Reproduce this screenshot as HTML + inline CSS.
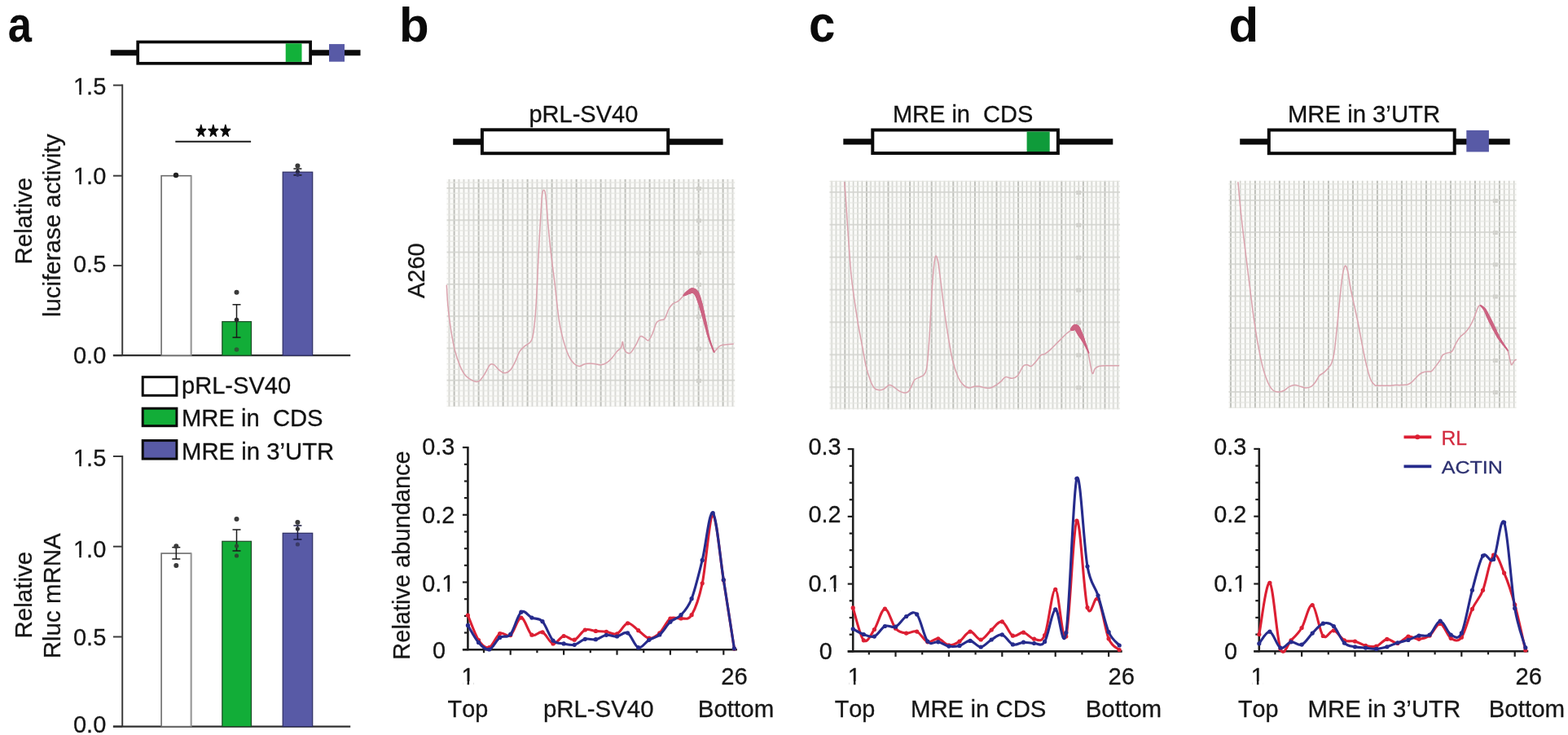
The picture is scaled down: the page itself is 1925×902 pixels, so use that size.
<!DOCTYPE html><html><head><meta charset="utf-8"><title>Figure</title>
<style>html,body{margin:0;padding:0;background:#fff;width:1925px;height:902px;overflow:hidden}svg{display:block}text{font-family:"Liberation Sans", Arial, sans-serif;font-kerning:none;font-feature-settings:"kern" 0}</style></head><body>
<svg width="1925" height="902" viewBox="0 0 1925 902">
<defs>
<filter id="soft" x="-2%" y="-2%" width="104%" height="104%"><feGaussianBlur stdDeviation="0.6"/></filter>
<filter id="soft2" x="-5%" y="-5%" width="110%" height="110%"><feGaussianBlur stdDeviation="0.35"/></filter>
</defs>
<rect x="0" y="0" width="1925" height="902" fill="#ffffff"/>
<text x="0" y="0" font-size="60" font-weight="bold" fill="#0a0a0a" transform="translate(11.1 51.3) scale(0.875 1.025) translate(-1.6 0)">a</text>
<text x="490" y="50.6" font-size="60" text-anchor="start" font-weight="bold" fill="#0a0a0a">b</text>
<text x="0" y="0" font-size="60" font-weight="bold" fill="#0a0a0a" transform="translate(994.9 51.3) scale(0.97 1.05) translate(-2.0 0)">c</text>
<text x="1508.5" y="50.6" font-size="60" text-anchor="start" font-weight="bold" fill="#0a0a0a">d</text>
<line x1="135.8" y1="64.8" x2="168.4" y2="64.8" stroke="#0a0a0a" stroke-width="7" stroke-linecap="butt"/>
<line x1="382" y1="64.8" x2="442.5" y2="64.8" stroke="#0a0a0a" stroke-width="7" stroke-linecap="butt"/>
<rect x="169.2" y="51.5" width="211.9" height="26.3" fill="#ffffff" stroke="#0a0a0a" stroke-width="3.7"/>
<rect x="350.7" y="53.3" width="19.8" height="22.6" fill="#12b13a" stroke="none" stroke-width="0"/>
<rect x="404" y="54.1" width="19" height="21.6" fill="#585aa6" stroke="none" stroke-width="0"/>
<line x1="556.2" y1="174" x2="590.9" y2="174" stroke="#0a0a0a" stroke-width="7.4" stroke-linecap="butt"/>
<line x1="821.2" y1="174" x2="887.6" y2="174" stroke="#0a0a0a" stroke-width="7.4" stroke-linecap="butt"/>
<rect x="591.9" y="159.3" width="228.3" height="28.9" fill="#ffffff" stroke="#0a0a0a" stroke-width="4"/>
<line x1="1035.3" y1="173.9" x2="1070.3" y2="173.9" stroke="#0a0a0a" stroke-width="7.4" stroke-linecap="butt"/>
<line x1="1299.9" y1="173.9" x2="1366.3" y2="173.9" stroke="#0a0a0a" stroke-width="7.4" stroke-linecap="butt"/>
<rect x="1071.3" y="159.5" width="227.6" height="28.5" fill="#ffffff" stroke="#0a0a0a" stroke-width="4"/>
<rect x="1260.6" y="161.5" width="28.1" height="24.5" fill="#0f9b3a" stroke="none" stroke-width="0"/>
<line x1="1522.2" y1="173.9" x2="1556.8" y2="173.9" stroke="#0a0a0a" stroke-width="7.4" stroke-linecap="butt"/>
<line x1="1786.7" y1="173.9" x2="1853.7" y2="173.9" stroke="#0a0a0a" stroke-width="7.4" stroke-linecap="butt"/>
<rect x="1557.8" y="159.5" width="227.9" height="28.7" fill="#ffffff" stroke="#0a0a0a" stroke-width="4"/>
<rect x="1800.3" y="159.9" width="27.6" height="26.5" fill="#585aa6" stroke="none" stroke-width="0"/>
<text x="716.4" y="149.5" font-size="29" text-anchor="middle" font-weight="normal" fill="#111" stroke="#111" stroke-width="0.28">pRL-SV40</text>
<text x="1182.1" y="149.6" font-size="29" text-anchor="middle" font-weight="normal" fill="#111" stroke="#111" stroke-width="0.28">MRE in&#160;&#160;CDS</text>
<text x="1674.5" y="149.6" font-size="29.3" text-anchor="middle" font-weight="normal" fill="#111" stroke="#111" stroke-width="0.28">MRE in 3&#8217;UTR</text>
<line x1="150.2" y1="103.6" x2="150.2" y2="436.2" stroke="#3c3c3c" stroke-width="2" stroke-linecap="butt"/>
<line x1="138.9" y1="104.6" x2="150.2" y2="104.6" stroke="#3c3c3c" stroke-width="2" stroke-linecap="butt"/>
<line x1="138.9" y1="215.7" x2="150.2" y2="215.7" stroke="#3c3c3c" stroke-width="2" stroke-linecap="butt"/>
<line x1="138.9" y1="325.9" x2="150.2" y2="325.9" stroke="#3c3c3c" stroke-width="2" stroke-linecap="butt"/>
<line x1="138.9" y1="436.2" x2="150.2" y2="436.2" stroke="#3c3c3c" stroke-width="2" stroke-linecap="butt"/>
<line x1="138.9" y1="436.2" x2="430.2" y2="436.2" stroke="#303030" stroke-width="2.2" stroke-linecap="butt"/>
<clipPath id="nf1"><path clip-rule="evenodd" d="M70,55.8 h80.3 v100 h-80.3 Z M91.73,112.38 h5.55 v4.92 h-5.55 Z M99.75,112.38 h5.61 v4.92 h-5.61 Z"/></clipPath>
<text x="130.3" y="115.8" font-size="29" text-anchor="end" font-weight="normal" fill="#161616" stroke="#161616" stroke-width="0.28" clip-path="url(#nf1)">1.5</text>
<clipPath id="nf2"><path clip-rule="evenodd" d="M70,165.9 h80.3 v100 h-80.3 Z M91.73,222.48 h5.55 v4.92 h-5.55 Z M99.75,222.48 h5.61 v4.92 h-5.61 Z"/></clipPath>
<text x="130.3" y="225.9" font-size="29" text-anchor="end" font-weight="normal" fill="#161616" stroke="#161616" stroke-width="0.28" clip-path="url(#nf2)">1.0</text>
<text x="130.3" y="333.9" font-size="29" text-anchor="end" font-weight="normal" fill="#161616" stroke="#161616" stroke-width="0.28">0.5</text>
<text x="130.3" y="445.7" font-size="29" text-anchor="end" font-weight="normal" fill="#161616" stroke="#161616" stroke-width="0.28">0.0</text>
<rect x="198.1" y="215.7" width="36.5" height="220.5" fill="#ffffff" stroke="#6c6c6c" stroke-width="1.6"/>
<line x1="234.6" y1="215.7" x2="234.6" y2="436.2" stroke="#9a9a9a" stroke-width="1.6" stroke-linecap="butt"/>
<rect x="272.8" y="394.7" width="35.7" height="41.5" fill="#12ad38" stroke="#1d4a26" stroke-width="1.2"/>
<rect x="347.2" y="211.2" width="36.5" height="225" fill="#585aa6" stroke="#2c2c62" stroke-width="1.2"/>
<line x1="150.2" y1="559" x2="150.2" y2="891.6" stroke="#3c3c3c" stroke-width="2" stroke-linecap="butt"/>
<line x1="138.9" y1="560" x2="150.2" y2="560" stroke="#3c3c3c" stroke-width="2" stroke-linecap="butt"/>
<line x1="138.9" y1="670.7" x2="150.2" y2="670.7" stroke="#3c3c3c" stroke-width="2" stroke-linecap="butt"/>
<line x1="138.9" y1="781.5" x2="150.2" y2="781.5" stroke="#3c3c3c" stroke-width="2" stroke-linecap="butt"/>
<line x1="138.9" y1="891.6" x2="150.2" y2="891.6" stroke="#3c3c3c" stroke-width="2" stroke-linecap="butt"/>
<line x1="138.9" y1="891.6" x2="430.2" y2="891.6" stroke="#303030" stroke-width="2.2" stroke-linecap="butt"/>
<clipPath id="nf3"><path clip-rule="evenodd" d="M70,511.8 h80.3 v100 h-80.3 Z M91.73,568.38 h5.55 v4.92 h-5.55 Z M99.75,568.38 h5.61 v4.92 h-5.61 Z"/></clipPath>
<text x="130.3" y="571.8" font-size="29" text-anchor="end" font-weight="normal" fill="#161616" stroke="#161616" stroke-width="0.28" clip-path="url(#nf3)">1.5</text>
<clipPath id="nf4"><path clip-rule="evenodd" d="M70,624.4 h80.3 v100 h-80.3 Z M91.73,680.98 h5.55 v4.92 h-5.55 Z M99.75,680.98 h5.61 v4.92 h-5.61 Z"/></clipPath>
<text x="130.3" y="684.4" font-size="29" text-anchor="end" font-weight="normal" fill="#161616" stroke="#161616" stroke-width="0.28" clip-path="url(#nf4)">1.0</text>
<text x="130.3" y="791.6" font-size="29" text-anchor="end" font-weight="normal" fill="#161616" stroke="#161616" stroke-width="0.28">0.5</text>
<text x="130.3" y="898.6" font-size="29" text-anchor="end" font-weight="normal" fill="#161616" stroke="#161616" stroke-width="0.28">0.0</text>
<rect x="198.1" y="679.1" width="36.5" height="212.5" fill="#ffffff" stroke="#6c6c6c" stroke-width="1.6"/>
<line x1="234.6" y1="679.1" x2="234.6" y2="891.6" stroke="#9a9a9a" stroke-width="1.6" stroke-linecap="butt"/>
<rect x="272.8" y="664.3" width="35.7" height="227.3" fill="#12ad38" stroke="#1d4a26" stroke-width="1.2"/>
<rect x="347.2" y="654.3" width="36.5" height="237.3" fill="#585aa6" stroke="#2c2c62" stroke-width="1.2"/>
<circle cx="216" cy="215" r="3.2" fill="#222"/>
<line x1="290.5" y1="373.8" x2="290.5" y2="414.1" stroke="#1a1a1a" stroke-width="1.5" stroke-linecap="butt"/>
<line x1="285.5" y1="373.8" x2="295.5" y2="373.8" stroke="#1a1a1a" stroke-width="1.5" stroke-linecap="butt"/>
<line x1="285.5" y1="414.1" x2="295.5" y2="414.1" stroke="#1a1a1a" stroke-width="1.5" stroke-linecap="butt"/>
<circle cx="290.5" cy="358.8" r="3" fill="#3a3a3a"/>
<circle cx="290.5" cy="392.5" r="2.8" fill="#2a2a2a"/>
<circle cx="290.5" cy="429" r="2.8" fill="#2d5a35"/>
<line x1="365.4" y1="207.1" x2="365.4" y2="214.9" stroke="#1a1a1a" stroke-width="1.5" stroke-linecap="butt"/>
<line x1="360.4" y1="207.1" x2="370.4" y2="207.1" stroke="#1a1a1a" stroke-width="1.5" stroke-linecap="butt"/>
<line x1="360.4" y1="214.9" x2="370.4" y2="214.9" stroke="#1a1a1a" stroke-width="1.5" stroke-linecap="butt"/>
<circle cx="365.4" cy="203.5" r="3" fill="#3a3a3a"/>
<circle cx="365.4" cy="210.5" r="2.6" fill="#2a2a40"/>
<circle cx="365.4" cy="214.5" r="2.4" fill="#30306a"/>
<line x1="215.3" y1="173.8" x2="308.1" y2="173.8" stroke="#1a1a1a" stroke-width="2" stroke-linecap="butt"/>
<text x="0" y="0" font-size="19" text-anchor="middle" fill="#0a0a0a" font-family="DejaVu Sans" letter-spacing="2.3" stroke="#0a0a0a" stroke-width="1.7" stroke-linejoin="round" transform="translate(262.4 166.6) scale(0.8 1)">&#9733;&#9733;&#9733;</text>
<line x1="216.3" y1="671.7" x2="216.3" y2="686" stroke="#1a1a1a" stroke-width="1.5" stroke-linecap="butt"/>
<line x1="211.3" y1="671.7" x2="221.3" y2="671.7" stroke="#1a1a1a" stroke-width="1.5" stroke-linecap="butt"/>
<line x1="211.3" y1="686" x2="221.3" y2="686" stroke="#1a1a1a" stroke-width="1.5" stroke-linecap="butt"/>
<circle cx="216.3" cy="670.2" r="3" fill="#3a3a3a"/>
<circle cx="216.3" cy="694" r="3" fill="#3a3a3a"/>
<line x1="290.5" y1="650" x2="290.5" y2="676" stroke="#1a1a1a" stroke-width="1.5" stroke-linecap="butt"/>
<line x1="285.5" y1="650" x2="295.5" y2="650" stroke="#1a1a1a" stroke-width="1.5" stroke-linecap="butt"/>
<line x1="285.5" y1="676" x2="295.5" y2="676" stroke="#1a1a1a" stroke-width="1.5" stroke-linecap="butt"/>
<circle cx="290.5" cy="637" r="3" fill="#3a3a3a"/>
<circle cx="290.5" cy="670" r="2.6" fill="#2a4a30"/>
<circle cx="290.5" cy="682" r="2.6" fill="#2a4a30"/>
<line x1="365.4" y1="645" x2="365.4" y2="662" stroke="#1a1a40" stroke-width="1.5" stroke-linecap="butt"/>
<line x1="360.4" y1="645" x2="370.4" y2="645" stroke="#1a1a40" stroke-width="1.5" stroke-linecap="butt"/>
<line x1="360.4" y1="662" x2="370.4" y2="662" stroke="#1a1a40" stroke-width="1.5" stroke-linecap="butt"/>
<circle cx="365.4" cy="641" r="3" fill="#3a3a3a"/>
<circle cx="365.4" cy="649" r="2.6" fill="#333"/>
<circle cx="365.4" cy="668" r="2.6" fill="#3a3a66"/>
<text x="38.6" y="271.2" font-size="29.5" text-anchor="middle" font-weight="normal" fill="#161616" stroke="#161616" stroke-width="0.28" transform="rotate(-90 38.6 271.2)">Relative</text>
<text x="74" y="276.8" font-size="29.5" text-anchor="middle" font-weight="normal" fill="#161616" stroke="#161616" stroke-width="0.28" transform="rotate(-90 74 276.8)">luciferase activity</text>
<text x="38.6" y="730.2" font-size="29.5" text-anchor="middle" font-weight="normal" fill="#161616" stroke="#161616" stroke-width="0.28" transform="rotate(-90 38.6 730.2)">Relative</text>
<text x="74" y="731.3" font-size="29.5" text-anchor="middle" font-weight="normal" fill="#161616" stroke="#161616" stroke-width="0.28" transform="rotate(-90 74 731.3)">Rluc mRNA</text>
<rect x="175.2" y="462.7" width="41.7" height="22.6" fill="#ffffff" stroke="#0a0a0a" stroke-width="3"/>
<rect x="175.2" y="501.2" width="41.7" height="21.5" fill="#12ad38" stroke="#0a0a0a" stroke-width="3"/>
<rect x="175.2" y="540.6" width="41.7" height="22.5" fill="#585aa6" stroke="#0a0a0a" stroke-width="3"/>
<text x="223" y="482.9" font-size="29.1" text-anchor="start" font-weight="normal" fill="#111" stroke="#111" stroke-width="0.28">pRL-SV40</text>
<text x="223" y="522.8" font-size="29.2" text-anchor="start" font-weight="normal" fill="#111" stroke="#111" stroke-width="0.28">MRE in&#160;&#160;CDS</text>
<text x="223" y="563.9" font-size="29.3" text-anchor="start" font-weight="normal" fill="#111" stroke="#111" stroke-width="0.28">MRE in 3&#8217;UTR</text>
<defs><pattern id="gv1" x="8.3" y="0" width="30" height="10" patternUnits="userSpaceOnUse"><rect x="0" y="0" width="2.0" height="10" fill="#bfc0bb"/><rect x="6" y="0" width="1.5" height="10" fill="#cfd0cb"/><rect x="12" y="0" width="1.5" height="10" fill="#cfd0cb"/><rect x="18" y="0" width="1.5" height="10" fill="#cfd0cb"/><rect x="24" y="0" width="1.5" height="10" fill="#cfd0cb"/></pattern>
<pattern id="gh1" x="0" y="10" width="10" height="39.3" patternUnits="userSpaceOnUse"><rect x="0" y="0" width="10" height="1.7" fill="#d4d5d0"/><rect x="0" y="6.5" width="10" height="1.2" fill="#e5e6e1"/><rect x="0" y="13.1" width="10" height="1.2" fill="#e5e6e1"/><rect x="0" y="19.6" width="10" height="1.2" fill="#e5e6e1"/><rect x="0" y="26.2" width="10" height="1.2" fill="#e5e6e1"/><rect x="0" y="32.8" width="10" height="1.2" fill="#e5e6e1"/></pattern></defs>
<rect x="548.3" y="220" width="354.1" height="279.2" fill="#fbfbf9" stroke="none" stroke-width="0"/>
<g filter="url(#soft)">
<svg x="548.3" y="220" width="354.1" height="279.2" overflow="hidden">
<rect x="0" y="0" width="354.1" height="279.2" fill="url(#gv1)" stroke="none" stroke-width="0"/>
<rect x="0" y="0" width="354.1" height="279.2" fill="url(#gh1)" stroke="none" stroke-width="0"/>
</svg>
<rect x="854.9" y="229" width="6" height="5" fill="#d2d2cd" stroke="none" stroke-width="0"/>
<rect x="854.9" y="268.3" width="6" height="5" fill="#d2d2cd" stroke="none" stroke-width="0"/>
<rect x="854.9" y="307.6" width="6" height="5" fill="#d2d2cd" stroke="none" stroke-width="0"/>
<rect x="854.9" y="346.9" width="6" height="5" fill="#d2d2cd" stroke="none" stroke-width="0"/>
<rect x="854.9" y="386.2" width="6" height="5" fill="#d2d2cd" stroke="none" stroke-width="0"/>
<rect x="854.9" y="425.5" width="6" height="5" fill="#d2d2cd" stroke="none" stroke-width="0"/>
<rect x="854.9" y="464.8" width="6" height="5" fill="#d2d2cd" stroke="none" stroke-width="0"/>
</g>
<g filter="url(#soft2)">
<path d="M548.3,349.6 C548.6,354.1 549.1,367.4 550,376.2 C550.8,385.1 551.9,394 553.3,402.8 C554.7,411.7 556.3,421.7 558.3,429.4 C560.2,437.2 562.7,444.1 564.9,449.4 C567.1,454.6 568.8,457.9 571.6,461 C574.3,464 578.8,466.5 581.5,467.6 C584.3,468.8 586,469 588.2,467.6 C590.4,466.3 592.6,462.7 594.8,459.3 C597.1,456 599.6,449.6 601.5,447.7 C603.4,445.8 604.5,446.6 606.5,447.7 C608.4,448.8 610.9,452.7 613.1,454.3 C615.3,456 617.6,457.7 619.8,457.7 C622,457.7 624.2,456.8 626.4,454.3 C628.6,451.9 631.1,446.6 633.1,442.7 C635,438.8 636.1,434.1 638.1,431.1 C640,428 642.5,426.4 644.7,424.4 C646.9,422.5 649.7,421.9 651.4,419.4 C653,416.9 653.6,416.7 654.7,409.5 C655.8,402.3 656.9,392.8 658,376.2 C659.1,359.6 660.2,330.8 661.3,309.7 C662.4,288.7 663.8,262.4 664.7,249.9 C665.5,237.4 665.5,236.9 666.3,234.9 C667.1,233 668.5,231.3 669.6,238.3 C670.7,245.2 671.9,264.6 673,276.5 C674.1,288.4 674.9,297.5 676.3,309.7 C677.7,321.9 679.6,335.8 681.3,349.6 C682.9,363.5 684.6,381.8 686.3,392.8 C687.9,403.9 689.3,408.9 691.2,416.1 C693.2,423.3 695.7,431.1 697.9,436.1 C700.1,441.1 702.3,443.8 704.5,446 C706.8,448.3 709,449.3 711.2,449.4 C713.4,449.5 715.6,447.3 717.8,446.7 C720.1,446.1 722.3,446 724.5,446 C726.7,446 728.9,446.4 731.1,446.7 C733.4,447 735.6,447.9 737.8,447.7 C740,447.5 742.2,446.8 744.4,445.4 C746.7,444 748.9,441.8 751.1,439.4 C753.3,437 755.8,433.3 757.7,431.1 C759.7,428.9 761.6,428 762.7,426.1 C763.8,424.2 763.8,419.2 764.4,419.4 C764.9,419.7 765.2,425.5 766.1,427.8 C766.9,430 768,431.9 769.4,432.7 C770.8,433.6 772.4,434.4 774.4,432.7 C776.3,431.1 779.1,426.1 781,422.8 C782.9,419.4 784.3,414.2 786,412.8 C787.7,411.4 789.3,413.6 791,414.5 C792.6,415.3 794.3,418.6 796,417.8 C797.6,416.9 799.3,413.1 801,409.5 C802.6,405.9 804.3,398.9 805.9,396.2 C807.6,393.4 809.3,393.7 810.9,392.8 C812.6,392 814.3,393.4 815.9,391.2 C817.6,389 819.2,382.6 820.9,379.5 C822.6,376.5 824,374.6 825.9,372.9 C827.8,371.2 830.3,371.2 832.5,369.6 C834.8,367.9 837,364.9 839.2,362.9 C841.4,361 843.9,359 845.8,357.9 C847.8,356.8 849.2,355.7 850.8,356.3 C852.5,356.8 854.1,357.9 855.8,361.3 C857.5,364.6 859.1,370.4 860.8,376.2 C862.5,382 864.1,389.5 865.8,396.2 C867.4,402.8 869.1,410.3 870.8,416.1 C872.4,421.9 874.4,428.9 875.8,431.1 C877.1,433.3 877.7,430.5 879.1,429.4 C880.5,428.3 881.9,425.5 884.1,424.4 C886.3,423.3 889.6,423.2 892.4,422.8 C895.2,422.4 899.3,422.2 900.7,422.1" fill="none" stroke="#dba3ae" stroke-width="1.5" stroke-linejoin="round"/>
<line x1="839.2" y1="362.6" x2="839.9" y2="362.1" stroke="#cc6482" stroke-width="1.6" stroke-linecap="round"/>
<line x1="839.9" y1="362.1" x2="841" y2="361.4" stroke="#cc6482" stroke-width="2.8" stroke-linecap="round"/>
<line x1="841" y1="361.4" x2="842.2" y2="360.5" stroke="#cc6482" stroke-width="3.6" stroke-linecap="round"/>
<line x1="842.2" y1="360.5" x2="843.5" y2="359.7" stroke="#cc6482" stroke-width="4.1" stroke-linecap="round"/>
<line x1="843.5" y1="359.7" x2="844.7" y2="358.9" stroke="#cc6482" stroke-width="4.6" stroke-linecap="round"/>
<line x1="844.7" y1="358.9" x2="845.8" y2="358.3" stroke="#cc6482" stroke-width="5" stroke-linecap="round"/>
<line x1="845.8" y1="358.3" x2="846.8" y2="357.8" stroke="#cc6482" stroke-width="5.3" stroke-linecap="round"/>
<line x1="846.8" y1="357.8" x2="847.6" y2="357.3" stroke="#cc6482" stroke-width="5.6" stroke-linecap="round"/>
<line x1="847.6" y1="357.3" x2="848.4" y2="356.9" stroke="#cc6482" stroke-width="5.8" stroke-linecap="round"/>
<line x1="848.4" y1="356.9" x2="849.2" y2="356.6" stroke="#cc6482" stroke-width="5.9" stroke-linecap="round"/>
<line x1="849.2" y1="356.6" x2="850" y2="356.5" stroke="#cc6482" stroke-width="6.1" stroke-linecap="round"/>
<line x1="850" y1="356.5" x2="850.8" y2="356.6" stroke="#cc6482" stroke-width="6.1" stroke-linecap="round"/>
<line x1="850.8" y1="356.6" x2="851.7" y2="356.9" stroke="#cc6482" stroke-width="6.2" stroke-linecap="round"/>
<line x1="851.7" y1="356.9" x2="852.5" y2="357.3" stroke="#cc6482" stroke-width="6.2" stroke-linecap="round"/>
<line x1="852.5" y1="357.3" x2="853.3" y2="357.9" stroke="#cc6482" stroke-width="6.2" stroke-linecap="round"/>
<line x1="853.3" y1="357.9" x2="854.1" y2="358.7" stroke="#cc6482" stroke-width="6.1" stroke-linecap="round"/>
<line x1="854.1" y1="358.7" x2="855" y2="359.8" stroke="#cc6482" stroke-width="6.1" stroke-linecap="round"/>
<line x1="855" y1="359.8" x2="855.8" y2="361.3" stroke="#cc6482" stroke-width="6" stroke-linecap="round"/>
<line x1="855.8" y1="361.3" x2="856.6" y2="363.1" stroke="#cc6482" stroke-width="5.9" stroke-linecap="round"/>
<line x1="856.6" y1="363.1" x2="857.5" y2="365.3" stroke="#cc6482" stroke-width="5.7" stroke-linecap="round"/>
<line x1="857.5" y1="365.3" x2="858.3" y2="367.8" stroke="#cc6482" stroke-width="5.6" stroke-linecap="round"/>
<line x1="858.3" y1="367.8" x2="859.1" y2="370.5" stroke="#cc6482" stroke-width="5.4" stroke-linecap="round"/>
<line x1="859.1" y1="370.5" x2="860" y2="373.3" stroke="#cc6482" stroke-width="5.3" stroke-linecap="round"/>
<line x1="860" y1="373.3" x2="860.8" y2="376.2" stroke="#cc6482" stroke-width="5.1" stroke-linecap="round"/>
<line x1="860.8" y1="376.2" x2="861.6" y2="379.3" stroke="#cc6482" stroke-width="4.9" stroke-linecap="round"/>
<line x1="861.6" y1="379.3" x2="862.5" y2="382.5" stroke="#cc6482" stroke-width="4.7" stroke-linecap="round"/>
<line x1="862.5" y1="382.5" x2="863.3" y2="385.9" stroke="#cc6482" stroke-width="4.5" stroke-linecap="round"/>
<line x1="863.3" y1="385.9" x2="864.1" y2="389.3" stroke="#cc6482" stroke-width="4.3" stroke-linecap="round"/>
<line x1="864.1" y1="389.3" x2="865" y2="392.8" stroke="#cc6482" stroke-width="4.1" stroke-linecap="round"/>
<line x1="865" y1="392.8" x2="865.8" y2="396.2" stroke="#cc6482" stroke-width="3.9" stroke-linecap="round"/>
<line x1="865.8" y1="396.2" x2="866.6" y2="399.5" stroke="#cc6482" stroke-width="3.7" stroke-linecap="round"/>
<line x1="866.6" y1="399.5" x2="867.4" y2="403" stroke="#cc6482" stroke-width="3.4" stroke-linecap="round"/>
<line x1="867.4" y1="403" x2="868.2" y2="406.4" stroke="#cc6482" stroke-width="3.2" stroke-linecap="round"/>
<line x1="868.2" y1="406.4" x2="869" y2="409.8" stroke="#cc6482" stroke-width="3" stroke-linecap="round"/>
<line x1="869" y1="409.8" x2="869.9" y2="413" stroke="#cc6482" stroke-width="2.8" stroke-linecap="round"/>
<line x1="869.9" y1="413" x2="870.8" y2="416.1" stroke="#cc6482" stroke-width="2.6" stroke-linecap="round"/>
<line x1="870.8" y1="416.1" x2="871.8" y2="419.2" stroke="#cc6482" stroke-width="2.4" stroke-linecap="round"/>
<line x1="871.8" y1="419.2" x2="872.9" y2="422.3" stroke="#cc6482" stroke-width="2.2" stroke-linecap="round"/>
<line x1="872.9" y1="422.3" x2="874.1" y2="425.3" stroke="#cc6482" stroke-width="2" stroke-linecap="round"/>
<line x1="874.1" y1="425.3" x2="875.2" y2="428.1" stroke="#cc6482" stroke-width="1.9" stroke-linecap="round"/>
<line x1="875.2" y1="428.1" x2="876.1" y2="430.4" stroke="#cc6482" stroke-width="1.7" stroke-linecap="round"/>
<line x1="876.1" y1="430.4" x2="876.8" y2="432.1" stroke="#cc6482" stroke-width="1.6" stroke-linecap="round"/>
</g>
<defs><pattern id="gv2" x="18" y="0" width="26.6" height="10" patternUnits="userSpaceOnUse"><rect x="0" y="0" width="2.0" height="10" fill="#bfc0bb"/><rect x="5.3" y="0" width="1.5" height="10" fill="#cfd0cb"/><rect x="10.6" y="0" width="1.5" height="10" fill="#cfd0cb"/><rect x="16" y="0" width="1.5" height="10" fill="#cfd0cb"/><rect x="21.3" y="0" width="1.5" height="10" fill="#cfd0cb"/></pattern>
<pattern id="gh2" x="0" y="13.3" width="10" height="39.9" patternUnits="userSpaceOnUse"><rect x="0" y="0" width="10" height="1.7" fill="#d4d5d0"/><rect x="0" y="6.6" width="10" height="1.2" fill="#e5e6e1"/><rect x="0" y="13.3" width="10" height="1.2" fill="#e5e6e1"/><rect x="0" y="19.9" width="10" height="1.2" fill="#e5e6e1"/><rect x="0" y="26.6" width="10" height="1.2" fill="#e5e6e1"/><rect x="0" y="33.2" width="10" height="1.2" fill="#e5e6e1"/></pattern></defs>
<rect x="1018.3" y="221.6" width="356.7" height="281" fill="#fbfbf9" stroke="none" stroke-width="0"/>
<g filter="url(#soft)">
<svg x="1018.3" y="221.6" width="356.7" height="281" overflow="hidden">
<rect x="0" y="0" width="356.7" height="281" fill="url(#gv2)" stroke="none" stroke-width="0"/>
<rect x="0" y="0" width="356.7" height="281" fill="url(#gh2)" stroke="none" stroke-width="0"/>
</svg>
<rect x="1321.2" y="233.9" width="6" height="5" fill="#d2d2cd" stroke="none" stroke-width="0"/>
<rect x="1321.2" y="273.8" width="6" height="5" fill="#d2d2cd" stroke="none" stroke-width="0"/>
<rect x="1321.2" y="313.7" width="6" height="5" fill="#d2d2cd" stroke="none" stroke-width="0"/>
<rect x="1321.2" y="353.6" width="6" height="5" fill="#d2d2cd" stroke="none" stroke-width="0"/>
<rect x="1321.2" y="393.5" width="6" height="5" fill="#d2d2cd" stroke="none" stroke-width="0"/>
<rect x="1321.2" y="433.4" width="6" height="5" fill="#d2d2cd" stroke="none" stroke-width="0"/>
<rect x="1321.2" y="473.3" width="6" height="5" fill="#d2d2cd" stroke="none" stroke-width="0"/>
</g>
<g filter="url(#soft2)">
<path d="M1036.6,223.3 C1036.9,226.6 1037.4,231.6 1038.3,243.2 C1039.1,254.9 1040.5,277.6 1041.6,293.1 C1042.7,308.6 1043.8,324.7 1044.9,336.3 C1046,348 1046.8,353 1048.2,362.9 C1049.6,372.9 1051.6,386.2 1053.2,396.2 C1054.9,406.1 1056.5,413.9 1058.2,422.8 C1059.9,431.6 1061.5,442.2 1063.2,449.4 C1064.9,456.6 1066.5,461.6 1068.2,466 C1069.8,470.4 1071.5,473.9 1073.2,476 C1074.8,478.1 1076.2,478.3 1078.2,478.6 C1080.1,478.9 1082.6,478.6 1084.8,477.6 C1087,476.6 1089.5,473.2 1091.4,472.6 C1093.4,472.1 1094.5,473.2 1096.4,474.3 C1098.4,475.4 1100.9,478 1103.1,479.3 C1105.3,480.6 1107.8,481.7 1109.7,481.9 C1111.7,482.2 1113.3,481.9 1114.7,480.9 C1116.1,479.9 1116.7,478.5 1118,476 C1119.4,473.5 1121.1,468.2 1123,466 C1125,463.8 1127.7,463.8 1129.7,462.7 C1131.6,461.6 1133.3,461.6 1134.7,459.3 C1136.1,457.1 1136.9,457.7 1138,449.4 C1139.1,441.1 1140.2,426.1 1141.3,409.5 C1142.4,392.8 1143.5,365.1 1144.6,349.6 C1145.7,334.1 1146.9,321.4 1148,316.4 C1149.1,311.4 1150.2,315.3 1151.3,319.7 C1152.4,324.1 1153.2,332.5 1154.6,343 C1156,353.5 1157.9,370.7 1159.6,382.9 C1161.3,395.1 1162.9,406.1 1164.6,416.1 C1166.2,426.1 1167.6,435 1169.6,442.7 C1171.5,450.5 1174,457.7 1176.2,462.7 C1178.4,467.6 1180.7,470.4 1182.9,472.6 C1185.1,474.8 1187.3,475.7 1189.5,476 C1191.7,476.2 1194,474.6 1196.2,474.3 C1198.4,474 1200.6,474 1202.8,474.3 C1205,474.6 1207.3,475.7 1209.5,476 C1211.7,476.2 1213.9,476.5 1216.1,476 C1218.3,475.4 1220.5,474 1222.8,472.6 C1225,471.2 1227.5,469.3 1229.4,467.6 C1231.4,466 1232.2,463.2 1234.4,462.7 C1236.6,462.1 1240.2,464.6 1242.7,464.3 C1245.2,464 1247.1,463.5 1249.4,461 C1251.6,458.5 1254.1,451.6 1256,449.4 C1257.9,447.1 1259.3,447.7 1261,447.7 C1262.7,447.7 1264,450.2 1266,449.4 C1267.9,448.5 1270.7,444.9 1272.6,442.7 C1274.6,440.5 1276,437.4 1277.6,436.1 C1279.3,434.7 1280.7,435.5 1282.6,434.4 C1284.5,433.3 1287,431.4 1289.3,429.4 C1291.5,427.5 1293.7,425 1295.9,422.8 C1298.1,420.5 1300.3,418.3 1302.6,416.1 C1304.8,413.9 1307,411.4 1309.2,409.5 C1311.4,407.5 1313.9,405.9 1315.9,404.5 C1317.8,403.1 1319.2,400.3 1320.8,401.2 C1322.5,402 1324.2,406.4 1325.8,409.5 C1327.5,412.5 1329.1,415.6 1330.8,419.4 C1332.5,423.3 1334.1,426.4 1335.8,432.7 C1337.5,439.1 1339.4,454.3 1340.8,457.7 C1342.2,461 1342.7,454.1 1344.1,452.7 C1345.5,451.3 1346.6,450 1349.1,449.4 C1351.6,448.7 1354.9,448.8 1359.1,448.7 C1363.2,448.6 1371.5,448.7 1374,448.7" fill="none" stroke="#dba3ae" stroke-width="1.5" stroke-linejoin="round"/>
<line x1="1315.2" y1="404.8" x2="1315.8" y2="404.3" stroke="#cc6482" stroke-width="1.6" stroke-linecap="round"/>
<line x1="1315.8" y1="404.3" x2="1316.7" y2="403.5" stroke="#cc6482" stroke-width="3.7" stroke-linecap="round"/>
<line x1="1316.7" y1="403.5" x2="1317.7" y2="402.7" stroke="#cc6482" stroke-width="4.9" stroke-linecap="round"/>
<line x1="1317.7" y1="402.7" x2="1318.8" y2="401.9" stroke="#cc6482" stroke-width="5.7" stroke-linecap="round"/>
<line x1="1318.8" y1="401.9" x2="1319.9" y2="401.4" stroke="#cc6482" stroke-width="6.3" stroke-linecap="round"/>
<line x1="1319.9" y1="401.4" x2="1320.8" y2="401.5" stroke="#cc6482" stroke-width="6.7" stroke-linecap="round"/>
<line x1="1320.8" y1="401.5" x2="1321.7" y2="402.1" stroke="#cc6482" stroke-width="6.9" stroke-linecap="round"/>
<line x1="1321.7" y1="402.1" x2="1322.5" y2="403.2" stroke="#cc6482" stroke-width="7" stroke-linecap="round"/>
<line x1="1322.5" y1="403.2" x2="1323.4" y2="404.6" stroke="#cc6482" stroke-width="7" stroke-linecap="round"/>
<line x1="1323.4" y1="404.6" x2="1324.2" y2="406.2" stroke="#cc6482" stroke-width="6.8" stroke-linecap="round"/>
<line x1="1324.2" y1="406.2" x2="1325" y2="407.9" stroke="#cc6482" stroke-width="6.6" stroke-linecap="round"/>
<line x1="1325" y1="407.9" x2="1325.8" y2="409.5" stroke="#cc6482" stroke-width="6.4" stroke-linecap="round"/>
<line x1="1325.8" y1="409.5" x2="1326.6" y2="411" stroke="#cc6482" stroke-width="6" stroke-linecap="round"/>
<line x1="1326.6" y1="411" x2="1327.4" y2="412.5" stroke="#cc6482" stroke-width="5.7" stroke-linecap="round"/>
<line x1="1327.4" y1="412.5" x2="1328.3" y2="414.1" stroke="#cc6482" stroke-width="5.3" stroke-linecap="round"/>
<line x1="1328.3" y1="414.1" x2="1329.1" y2="415.8" stroke="#cc6482" stroke-width="4.8" stroke-linecap="round"/>
<line x1="1329.1" y1="415.8" x2="1329.9" y2="417.5" stroke="#cc6482" stroke-width="4.4" stroke-linecap="round"/>
<line x1="1329.9" y1="417.5" x2="1330.8" y2="419.4" stroke="#cc6482" stroke-width="3.9" stroke-linecap="round"/>
<line x1="1330.8" y1="419.4" x2="1331.8" y2="421.7" stroke="#cc6482" stroke-width="3.5" stroke-linecap="round"/>
<line x1="1331.8" y1="421.7" x2="1333" y2="424.2" stroke="#cc6482" stroke-width="3" stroke-linecap="round"/>
<line x1="1333" y1="424.2" x2="1334.1" y2="426.9" stroke="#cc6482" stroke-width="2.6" stroke-linecap="round"/>
<line x1="1334.1" y1="426.9" x2="1335.2" y2="429.4" stroke="#cc6482" stroke-width="2.2" stroke-linecap="round"/>
<line x1="1335.2" y1="429.4" x2="1336.1" y2="431.5" stroke="#cc6482" stroke-width="1.9" stroke-linecap="round"/>
<line x1="1336.1" y1="431.5" x2="1336.8" y2="433.1" stroke="#cc6482" stroke-width="1.6" stroke-linecap="round"/>
</g>
<defs><pattern id="gv3" x="1.6" y="0" width="30" height="10" patternUnits="userSpaceOnUse"><rect x="0" y="0" width="2.0" height="10" fill="#bfc0bb"/><rect x="6" y="0" width="1.5" height="10" fill="#cfd0cb"/><rect x="12" y="0" width="1.5" height="10" fill="#cfd0cb"/><rect x="18" y="0" width="1.5" height="10" fill="#cfd0cb"/><rect x="24" y="0" width="1.5" height="10" fill="#cfd0cb"/></pattern>
<pattern id="gh3" x="0" y="23.3" width="10" height="39.2" patternUnits="userSpaceOnUse"><rect x="0" y="0" width="10" height="1.7" fill="#d4d5d0"/><rect x="0" y="6.5" width="10" height="1.2" fill="#e5e6e1"/><rect x="0" y="13.1" width="10" height="1.2" fill="#e5e6e1"/><rect x="0" y="19.6" width="10" height="1.2" fill="#e5e6e1"/><rect x="0" y="26.1" width="10" height="1.2" fill="#e5e6e1"/><rect x="0" y="32.7" width="10" height="1.2" fill="#e5e6e1"/></pattern></defs>
<rect x="1508.3" y="221.6" width="353.4" height="279.3" fill="#fbfbf9" stroke="none" stroke-width="0"/>
<g filter="url(#soft)">
<svg x="1508.3" y="221.6" width="353.4" height="279.3" overflow="hidden">
<rect x="0" y="0" width="353.4" height="279.3" fill="url(#gv3)" stroke="none" stroke-width="0"/>
<rect x="0" y="0" width="353.4" height="279.3" fill="url(#gh3)" stroke="none" stroke-width="0"/>
</svg>
<rect x="1832.8" y="243.9" width="6" height="5" fill="#d2d2cd" stroke="none" stroke-width="0"/>
<rect x="1832.8" y="283.1" width="6" height="5" fill="#d2d2cd" stroke="none" stroke-width="0"/>
<rect x="1832.8" y="322.3" width="6" height="5" fill="#d2d2cd" stroke="none" stroke-width="0"/>
<rect x="1832.8" y="361.5" width="6" height="5" fill="#d2d2cd" stroke="none" stroke-width="0"/>
<rect x="1832.8" y="400.7" width="6" height="5" fill="#d2d2cd" stroke="none" stroke-width="0"/>
<rect x="1832.8" y="439.9" width="6" height="5" fill="#d2d2cd" stroke="none" stroke-width="0"/>
<rect x="1832.8" y="479.1" width="6" height="5" fill="#d2d2cd" stroke="none" stroke-width="0"/>
</g>
<g filter="url(#soft2)">
<path d="M1519.9,223.3 C1520.5,229.4 1521.9,246.6 1523.3,259.9 C1524.7,273.2 1526.6,289.2 1528.3,303.1 C1529.9,316.9 1531.6,329.7 1533.2,343 C1534.9,356.3 1536.6,370.7 1538.2,382.9 C1539.9,395.1 1541.3,405 1543.2,416.1 C1545.2,427.2 1547.7,440.5 1549.9,449.4 C1552.1,458.2 1554.3,464.3 1556.5,469.3 C1558.7,474.3 1560.9,477.3 1563.2,479.3 C1565.4,481.2 1567.6,480.9 1569.8,480.9 C1572,480.9 1574.2,480.4 1576.5,479.3 C1578.7,478.2 1580.9,475.4 1583.1,474.3 C1585.3,473.2 1587.5,472.6 1589.8,472.6 C1592,472.6 1594.2,473.7 1596.4,474.3 C1598.6,474.8 1600.8,476 1603.1,476 C1605.3,476 1607.8,475.4 1609.7,474.3 C1611.6,473.2 1613,471.5 1614.7,469.3 C1616.4,467.1 1618,462.9 1619.7,461 C1621.3,459.1 1623,459.1 1624.7,457.7 C1626.3,456.3 1628,454.6 1629.7,452.7 C1631.3,450.7 1633.3,449.4 1634.6,446 C1636,442.7 1636.9,439.9 1638,432.7 C1639.1,425.5 1640.2,413.3 1641.3,402.8 C1642.4,392.3 1643.5,380.1 1644.6,369.6 C1645.7,359 1646.8,346.9 1647.9,339.7 C1649,332.5 1650.2,327.5 1651.3,326.4 C1652.4,325.2 1653.5,328.6 1654.6,333 C1655.7,337.4 1656.5,345.7 1657.9,353 C1659.3,360.2 1661.2,368.5 1662.9,376.2 C1664.6,384 1666.2,391.2 1667.9,399.5 C1669.5,407.8 1671.2,417.8 1672.9,426.1 C1674.5,434.4 1676.2,442.7 1677.9,449.4 C1679.5,456 1681.2,462.1 1682.8,466 C1684.5,469.9 1686.2,471.4 1687.8,472.6 C1689.5,473.9 1690.9,473.2 1692.8,473.3 C1694.8,473.4 1697.3,473.3 1699.5,473.3 C1701.7,473.3 1703.9,473.4 1706.1,473.3 C1708.3,473.2 1710.5,472.7 1712.8,472.6 C1715,472.5 1716.9,472.7 1719.4,472.6 C1721.9,472.5 1725.5,472.5 1727.7,472 C1729.9,471.4 1731.1,470.6 1732.7,469.3 C1734.4,468 1736,466 1737.7,464.3 C1739.4,462.7 1741,460.6 1742.7,459.3 C1744.3,458.1 1746,457.2 1747.7,456.7 C1749.3,456.1 1751,456.2 1752.7,456 C1754.3,455.8 1756,456.5 1757.6,455.3 C1759.3,454.2 1761,451.5 1762.6,449.4 C1764.3,447.3 1766.2,444.9 1767.6,442.7 C1769,440.5 1769.6,437.6 1770.9,436.1 C1772.3,434.5 1774,434.2 1775.9,433.4 C1777.9,432.6 1780.6,433.1 1782.6,431.1 C1784.5,429 1785.9,424 1787.6,421.1 C1789.2,418.2 1790.6,415.7 1792.6,413.5 C1794.5,411.2 1797.3,409.9 1799.2,407.8 C1801.1,405.8 1802.5,403.9 1804.2,401.2 C1805.9,398.4 1807.5,395.1 1809.2,391.2 C1810.8,387.3 1812.8,380.7 1814.2,377.9 C1815.5,375.1 1816.1,374.3 1817.5,374.6 C1818.9,374.8 1820.8,377.1 1822.5,379.5 C1824.1,382 1825.8,386.2 1827.5,389.5 C1829.1,392.8 1830.5,395.6 1832.4,399.5 C1834.4,403.4 1836.9,408.9 1839.1,412.8 C1841.3,416.7 1843.8,420 1845.7,422.8 C1847.7,425.5 1849.3,426.1 1850.7,429.4 C1852.1,432.7 1853.2,439.7 1854.1,442.7 C1854.9,445.8 1854.9,447.7 1855.7,447.7 C1856.5,447.7 1858,443.8 1859,442.7 C1860,441.6 1861.3,441.3 1861.7,441.1" fill="none" stroke="#dba3ae" stroke-width="1.5" stroke-linejoin="round"/>
<line x1="1817.5" y1="374.9" x2="1818" y2="375.3" stroke="#cc6482" stroke-width="1.5" stroke-linecap="round"/>
<line x1="1818" y1="375.3" x2="1818.8" y2="375.9" stroke="#cc6482" stroke-width="1.9" stroke-linecap="round"/>
<line x1="1818.8" y1="375.9" x2="1819.7" y2="376.6" stroke="#cc6482" stroke-width="2.2" stroke-linecap="round"/>
<line x1="1819.7" y1="376.6" x2="1820.6" y2="377.4" stroke="#cc6482" stroke-width="2.5" stroke-linecap="round"/>
<line x1="1820.6" y1="377.4" x2="1821.6" y2="378.4" stroke="#cc6482" stroke-width="2.8" stroke-linecap="round"/>
<line x1="1821.6" y1="378.4" x2="1822.5" y2="379.5" stroke="#cc6482" stroke-width="3.1" stroke-linecap="round"/>
<line x1="1822.5" y1="379.5" x2="1823.3" y2="380.9" stroke="#cc6482" stroke-width="3.3" stroke-linecap="round"/>
<line x1="1823.3" y1="380.9" x2="1824.1" y2="382.5" stroke="#cc6482" stroke-width="3.5" stroke-linecap="round"/>
<line x1="1824.1" y1="382.5" x2="1825" y2="384.2" stroke="#cc6482" stroke-width="3.7" stroke-linecap="round"/>
<line x1="1825" y1="384.2" x2="1825.8" y2="386" stroke="#cc6482" stroke-width="3.9" stroke-linecap="round"/>
<line x1="1825.8" y1="386" x2="1826.6" y2="387.8" stroke="#cc6482" stroke-width="4" stroke-linecap="round"/>
<line x1="1826.6" y1="387.8" x2="1827.5" y2="389.5" stroke="#cc6482" stroke-width="4.1" stroke-linecap="round"/>
<line x1="1827.5" y1="389.5" x2="1828.3" y2="391.1" stroke="#cc6482" stroke-width="4.2" stroke-linecap="round"/>
<line x1="1828.3" y1="391.1" x2="1829.1" y2="392.7" stroke="#cc6482" stroke-width="4.3" stroke-linecap="round"/>
<line x1="1829.1" y1="392.7" x2="1829.8" y2="394.3" stroke="#cc6482" stroke-width="4.3" stroke-linecap="round"/>
<line x1="1829.8" y1="394.3" x2="1830.7" y2="395.9" stroke="#cc6482" stroke-width="4.3" stroke-linecap="round"/>
<line x1="1830.7" y1="395.9" x2="1831.5" y2="397.6" stroke="#cc6482" stroke-width="4.3" stroke-linecap="round"/>
<line x1="1831.5" y1="397.6" x2="1832.4" y2="399.5" stroke="#cc6482" stroke-width="4.2" stroke-linecap="round"/>
<line x1="1832.4" y1="399.5" x2="1833.5" y2="401.6" stroke="#cc6482" stroke-width="4.2" stroke-linecap="round"/>
<line x1="1833.5" y1="401.6" x2="1834.5" y2="403.8" stroke="#cc6482" stroke-width="4.1" stroke-linecap="round"/>
<line x1="1834.5" y1="403.8" x2="1835.7" y2="406.1" stroke="#cc6482" stroke-width="4" stroke-linecap="round"/>
<line x1="1835.7" y1="406.1" x2="1836.8" y2="408.5" stroke="#cc6482" stroke-width="3.9" stroke-linecap="round"/>
<line x1="1836.8" y1="408.5" x2="1838" y2="410.7" stroke="#cc6482" stroke-width="3.7" stroke-linecap="round"/>
<line x1="1838" y1="410.7" x2="1839.1" y2="412.8" stroke="#cc6482" stroke-width="3.6" stroke-linecap="round"/>
<line x1="1839.1" y1="412.8" x2="1840.2" y2="414.7" stroke="#cc6482" stroke-width="3.4" stroke-linecap="round"/>
<line x1="1840.2" y1="414.7" x2="1841.4" y2="416.5" stroke="#cc6482" stroke-width="3.2" stroke-linecap="round"/>
<line x1="1841.4" y1="416.5" x2="1842.5" y2="418.2" stroke="#cc6482" stroke-width="3.1" stroke-linecap="round"/>
<line x1="1842.5" y1="418.2" x2="1843.6" y2="419.8" stroke="#cc6482" stroke-width="2.9" stroke-linecap="round"/>
<line x1="1843.6" y1="419.8" x2="1844.7" y2="421.3" stroke="#cc6482" stroke-width="2.7" stroke-linecap="round"/>
<line x1="1844.7" y1="421.3" x2="1845.7" y2="422.8" stroke="#cc6482" stroke-width="2.5" stroke-linecap="round"/>
<line x1="1845.7" y1="422.8" x2="1846.8" y2="424.2" stroke="#cc6482" stroke-width="2.3" stroke-linecap="round"/>
<line x1="1846.8" y1="424.2" x2="1847.8" y2="425.7" stroke="#cc6482" stroke-width="2.1" stroke-linecap="round"/>
<line x1="1847.8" y1="425.7" x2="1848.8" y2="427" stroke="#cc6482" stroke-width="1.9" stroke-linecap="round"/>
<line x1="1848.8" y1="427" x2="1849.7" y2="428.3" stroke="#cc6482" stroke-width="1.8" stroke-linecap="round"/>
<line x1="1849.7" y1="428.3" x2="1850.5" y2="429.3" stroke="#cc6482" stroke-width="1.6" stroke-linecap="round"/>
<line x1="1850.5" y1="429.3" x2="1851.1" y2="430.1" stroke="#cc6482" stroke-width="1.5" stroke-linecap="round"/>
</g>
<text x="521.4" y="332.2" font-size="29" text-anchor="middle" font-weight="normal" fill="#161616" stroke="#161616" stroke-width="0.28" transform="rotate(-90 521.4 332.2)">A260</text>
<line x1="574.4" y1="548.1" x2="574.4" y2="798.2" stroke="#1e1e1e" stroke-width="2.6" stroke-linecap="butt"/>
<line x1="567.9" y1="549.1" x2="574.4" y2="549.1" stroke="#1e1e1e" stroke-width="2.2" stroke-linecap="butt"/>
<line x1="569.9" y1="569.8" x2="574.4" y2="569.8" stroke="#1e1e1e" stroke-width="2.2" stroke-linecap="butt"/>
<line x1="569.9" y1="590.5" x2="574.4" y2="590.5" stroke="#1e1e1e" stroke-width="2.2" stroke-linecap="butt"/>
<line x1="569.9" y1="611.1" x2="574.4" y2="611.1" stroke="#1e1e1e" stroke-width="2.2" stroke-linecap="butt"/>
<line x1="567.9" y1="631.8" x2="574.4" y2="631.8" stroke="#1e1e1e" stroke-width="2.2" stroke-linecap="butt"/>
<line x1="569.9" y1="652.5" x2="574.4" y2="652.5" stroke="#1e1e1e" stroke-width="2.2" stroke-linecap="butt"/>
<line x1="569.9" y1="673.2" x2="574.4" y2="673.2" stroke="#1e1e1e" stroke-width="2.2" stroke-linecap="butt"/>
<line x1="569.9" y1="693.8" x2="574.4" y2="693.8" stroke="#1e1e1e" stroke-width="2.2" stroke-linecap="butt"/>
<line x1="567.9" y1="714.5" x2="574.4" y2="714.5" stroke="#1e1e1e" stroke-width="2.2" stroke-linecap="butt"/>
<line x1="569.9" y1="735.2" x2="574.4" y2="735.2" stroke="#1e1e1e" stroke-width="2.2" stroke-linecap="butt"/>
<line x1="569.9" y1="755.9" x2="574.4" y2="755.9" stroke="#1e1e1e" stroke-width="2.2" stroke-linecap="butt"/>
<line x1="569.9" y1="776.5" x2="574.4" y2="776.5" stroke="#1e1e1e" stroke-width="2.2" stroke-linecap="butt"/>
<line x1="567.9" y1="797.2" x2="574.4" y2="797.2" stroke="#1e1e1e" stroke-width="2.2" stroke-linecap="butt"/>
<line x1="567.9" y1="797.2" x2="904.9" y2="797.2" stroke="#1e1e1e" stroke-width="2.6" stroke-linecap="butt"/>
<line x1="594" y1="797.2" x2="594" y2="801.2" stroke="#1e1e1e" stroke-width="2.2" stroke-linecap="butt"/>
<line x1="626.7" y1="797.2" x2="626.7" y2="803.7" stroke="#1e1e1e" stroke-width="2.2" stroke-linecap="butt"/>
<line x1="659.4" y1="797.2" x2="659.4" y2="801.2" stroke="#1e1e1e" stroke-width="2.2" stroke-linecap="butt"/>
<line x1="692.1" y1="797.2" x2="692.1" y2="803.7" stroke="#1e1e1e" stroke-width="2.2" stroke-linecap="butt"/>
<line x1="724.8" y1="797.2" x2="724.8" y2="801.2" stroke="#1e1e1e" stroke-width="2.2" stroke-linecap="butt"/>
<line x1="757.5" y1="797.2" x2="757.5" y2="803.7" stroke="#1e1e1e" stroke-width="2.2" stroke-linecap="butt"/>
<line x1="790.2" y1="797.2" x2="790.2" y2="801.2" stroke="#1e1e1e" stroke-width="2.2" stroke-linecap="butt"/>
<line x1="822.9" y1="797.2" x2="822.9" y2="803.7" stroke="#1e1e1e" stroke-width="2.2" stroke-linecap="butt"/>
<line x1="855.6" y1="797.2" x2="855.6" y2="801.2" stroke="#1e1e1e" stroke-width="2.2" stroke-linecap="butt"/>
<line x1="888.3" y1="797.2" x2="888.3" y2="803.7" stroke="#1e1e1e" stroke-width="2.2" stroke-linecap="butt"/>
<text x="538.2" y="557.5" font-size="28.8" text-anchor="middle" font-weight="normal" fill="#161616" stroke="#161616" stroke-width="0.28">0.3</text>
<text x="538.2" y="641.6" font-size="28.8" text-anchor="middle" font-weight="normal" fill="#161616" stroke="#161616" stroke-width="0.28">0.2</text>
<clipPath id="nf5"><path clip-rule="evenodd" d="M498.2,666.2 h80 v100 h-80 Z M543.93,722.80 h5.52 v4.90 h-5.52 Z M551.89,722.80 h5.57 v4.90 h-5.57 Z"/></clipPath>
<text x="538.2" y="726.2" font-size="28.8" text-anchor="middle" font-weight="normal" fill="#161616" stroke="#161616" stroke-width="0.28" clip-path="url(#nf5)">0.1</text>
<text x="538.9" y="808.2" font-size="28.8" text-anchor="middle" font-weight="normal" fill="#161616" stroke="#161616" stroke-width="0.28">0</text>
<path d="M574.4,755 C576.6,760.1 583.1,778.9 587.5,785.5 C591.8,792.1 596.2,795.8 600.6,794.5 C604.9,793.2 609.3,780 613.6,777.5 C618,775 622.4,782.8 626.7,779.6 C631.1,776.4 635.4,758.2 639.8,758.1 C644.2,758 648.5,776.2 652.9,779.2 C657.2,782.2 661.6,774 666,775.8 C670.3,777.6 674.7,789.1 679,789.9 C683.4,790.7 687.8,781.3 692.1,780.5 C696.5,779.7 700.8,786.5 705.2,785.2 C709.6,784 713.9,774.8 718.3,773 C722.6,771.2 727,774 731.4,774.4 C735.7,774.8 740.1,774.7 744.4,775.3 C748.8,775.9 753.2,779.6 757.5,777.9 C761.9,776.1 766.2,765.5 770.6,764.8 C775,764.1 779.3,770.6 783.7,773.7 C788,776.8 792.4,782.7 796.8,783.2 C801.1,783.7 805.5,780.8 809.8,776.8 C814.2,772.8 818.6,762 822.9,759 C827.3,756 831.6,759.7 836,759 C840.4,758.3 844.7,761.9 849.1,754.7 C853.4,747.5 857.8,736.1 862.2,715.8 C866.5,695.4 870.9,633.2 875.2,632.6 C879.6,632 884,684.8 888.3,712 C892.7,739.2 899.2,782 901.4,796" fill="none" stroke="#dc1f33" stroke-width="3.1" stroke-linejoin="round" stroke-linecap="round"/>
<circle cx="574.4" cy="755" r="2.6" fill="#dc1f33"/>
<circle cx="587.5" cy="785.5" r="2.6" fill="#dc1f33"/>
<circle cx="600.6" cy="794.5" r="2.6" fill="#dc1f33"/>
<circle cx="613.6" cy="777.5" r="2.6" fill="#dc1f33"/>
<circle cx="626.7" cy="779.6" r="2.6" fill="#dc1f33"/>
<circle cx="639.8" cy="758.1" r="2.6" fill="#dc1f33"/>
<circle cx="652.9" cy="779.2" r="2.6" fill="#dc1f33"/>
<circle cx="666" cy="775.8" r="2.6" fill="#dc1f33"/>
<circle cx="679" cy="789.9" r="2.6" fill="#dc1f33"/>
<circle cx="692.1" cy="780.5" r="2.6" fill="#dc1f33"/>
<circle cx="705.2" cy="785.2" r="2.6" fill="#dc1f33"/>
<circle cx="718.3" cy="773" r="2.6" fill="#dc1f33"/>
<circle cx="731.4" cy="774.4" r="2.6" fill="#dc1f33"/>
<circle cx="744.4" cy="775.3" r="2.6" fill="#dc1f33"/>
<circle cx="757.5" cy="777.9" r="2.6" fill="#dc1f33"/>
<circle cx="770.6" cy="764.8" r="2.6" fill="#dc1f33"/>
<circle cx="783.7" cy="773.7" r="2.6" fill="#dc1f33"/>
<circle cx="796.8" cy="783.2" r="2.6" fill="#dc1f33"/>
<circle cx="809.8" cy="776.8" r="2.6" fill="#dc1f33"/>
<circle cx="822.9" cy="759" r="2.6" fill="#dc1f33"/>
<circle cx="836" cy="759" r="2.6" fill="#dc1f33"/>
<circle cx="849.1" cy="754.7" r="2.6" fill="#dc1f33"/>
<circle cx="862.2" cy="715.8" r="2.6" fill="#dc1f33"/>
<circle cx="875.2" cy="632.6" r="2.6" fill="#dc1f33"/>
<circle cx="888.3" cy="712" r="2.6" fill="#dc1f33"/>
<circle cx="901.4" cy="796" r="2.6" fill="#dc1f33"/>
<path d="M574.4,767.4 C576.6,770.9 583.1,783.5 587.5,788.4 C591.8,793.3 596.2,798 600.6,797 C604.9,796 609.3,785.5 613.6,782.4 C618,779.3 622.4,783.6 626.7,778.4 C631.1,773.2 635.4,754.6 639.8,751.2 C644.2,747.8 648.5,756.2 652.9,758.1 C657.2,760 661.6,758 666,762.7 C670.3,767.4 674.7,781.6 679,786.1 C683.4,790.6 687.8,789 692.1,789.9 C696.5,790.8 700.8,792.2 705.2,791.3 C709.6,790.4 713.9,785.4 718.3,784.3 C722.6,783.2 727,785.5 731.4,784.7 C735.7,783.9 740.1,779.9 744.4,779.3 C748.8,778.7 753.2,781.4 757.5,781 C761.9,780.6 766.2,774.5 770.6,776.8 C775,779.1 779.3,793.3 783.7,794.7 C788,796.1 792.4,787.9 796.8,785.3 C801.1,782.7 805.5,782.7 809.8,779 C814.2,775.3 818.6,767.2 822.9,763.2 C827.3,759.2 831.6,759.5 836,754.7 C840.4,750 844.7,745.9 849.1,734.7 C853.4,723.5 857.8,704.9 862.2,687.4 C866.5,669.9 870.9,625.5 875.2,629.5 C879.6,633.5 884,683.9 888.3,711.6 C892.7,739.3 899.2,781.8 901.4,795.8" fill="none" stroke="#262b8c" stroke-width="3.1" stroke-linejoin="round" stroke-linecap="round"/>
<circle cx="574.4" cy="767.4" r="2.6" fill="#262b8c"/>
<circle cx="587.5" cy="788.4" r="2.6" fill="#262b8c"/>
<circle cx="600.6" cy="797" r="2.6" fill="#262b8c"/>
<circle cx="613.6" cy="782.4" r="2.6" fill="#262b8c"/>
<circle cx="626.7" cy="778.4" r="2.6" fill="#262b8c"/>
<circle cx="639.8" cy="751.2" r="2.6" fill="#262b8c"/>
<circle cx="652.9" cy="758.1" r="2.6" fill="#262b8c"/>
<circle cx="666" cy="762.7" r="2.6" fill="#262b8c"/>
<circle cx="679" cy="786.1" r="2.6" fill="#262b8c"/>
<circle cx="692.1" cy="789.9" r="2.6" fill="#262b8c"/>
<circle cx="705.2" cy="791.3" r="2.6" fill="#262b8c"/>
<circle cx="718.3" cy="784.3" r="2.6" fill="#262b8c"/>
<circle cx="731.4" cy="784.7" r="2.6" fill="#262b8c"/>
<circle cx="744.4" cy="779.3" r="2.6" fill="#262b8c"/>
<circle cx="757.5" cy="781" r="2.6" fill="#262b8c"/>
<circle cx="770.6" cy="776.8" r="2.6" fill="#262b8c"/>
<circle cx="783.7" cy="794.7" r="2.6" fill="#262b8c"/>
<circle cx="796.8" cy="785.3" r="2.6" fill="#262b8c"/>
<circle cx="809.8" cy="779" r="2.6" fill="#262b8c"/>
<circle cx="822.9" cy="763.2" r="2.6" fill="#262b8c"/>
<circle cx="836" cy="754.7" r="2.6" fill="#262b8c"/>
<circle cx="849.1" cy="734.7" r="2.6" fill="#262b8c"/>
<circle cx="862.2" cy="687.4" r="2.6" fill="#262b8c"/>
<circle cx="875.2" cy="629.5" r="2.6" fill="#262b8c"/>
<circle cx="888.3" cy="711.6" r="2.6" fill="#262b8c"/>
<circle cx="901.4" cy="795.8" r="2.6" fill="#262b8c"/>
<clipPath id="nf6"><path clip-rule="evenodd" d="M546.4,779.5 h56 v100 h-56 Z M568.12,836.10 h5.52 v4.90 h-5.52 Z M576.08,836.10 h5.57 v4.90 h-5.57 Z"/></clipPath>
<text x="574.4" y="839.5" font-size="28.8" text-anchor="middle" font-weight="normal" fill="#161616" stroke="#161616" stroke-width="0.28" clip-path="url(#nf6)">1</text>
<text x="901.6" y="839.5" font-size="29.2" text-anchor="middle" font-weight="normal" fill="#161616" stroke="#161616" stroke-width="0.28">26</text>
<text x="574.4" y="879.6" font-size="28.8" text-anchor="middle" font-weight="normal" fill="#161616" stroke="#161616" stroke-width="0.28">Top</text>
<text x="734.7" y="879.6" font-size="29.4" text-anchor="middle" font-weight="normal" fill="#161616" stroke="#161616" stroke-width="0.28">pRL-SV40</text>
<text x="903.5" y="879.6" font-size="29.5" text-anchor="middle" font-weight="normal" fill="#161616" stroke="#161616" stroke-width="0.28">Bottom</text>
<line x1="1047.2" y1="550.1" x2="1047.2" y2="800.4" stroke="#1e1e1e" stroke-width="2.6" stroke-linecap="butt"/>
<line x1="1040.7" y1="551.1" x2="1047.2" y2="551.1" stroke="#1e1e1e" stroke-width="2.2" stroke-linecap="butt"/>
<line x1="1042.7" y1="571.8" x2="1047.2" y2="571.8" stroke="#1e1e1e" stroke-width="2.2" stroke-linecap="butt"/>
<line x1="1042.7" y1="592.5" x2="1047.2" y2="592.5" stroke="#1e1e1e" stroke-width="2.2" stroke-linecap="butt"/>
<line x1="1042.7" y1="613.2" x2="1047.2" y2="613.2" stroke="#1e1e1e" stroke-width="2.2" stroke-linecap="butt"/>
<line x1="1040.7" y1="633.9" x2="1047.2" y2="633.9" stroke="#1e1e1e" stroke-width="2.2" stroke-linecap="butt"/>
<line x1="1042.7" y1="654.6" x2="1047.2" y2="654.6" stroke="#1e1e1e" stroke-width="2.2" stroke-linecap="butt"/>
<line x1="1042.7" y1="675.2" x2="1047.2" y2="675.2" stroke="#1e1e1e" stroke-width="2.2" stroke-linecap="butt"/>
<line x1="1042.7" y1="695.9" x2="1047.2" y2="695.9" stroke="#1e1e1e" stroke-width="2.2" stroke-linecap="butt"/>
<line x1="1040.7" y1="716.6" x2="1047.2" y2="716.6" stroke="#1e1e1e" stroke-width="2.2" stroke-linecap="butt"/>
<line x1="1042.7" y1="737.3" x2="1047.2" y2="737.3" stroke="#1e1e1e" stroke-width="2.2" stroke-linecap="butt"/>
<line x1="1042.7" y1="758" x2="1047.2" y2="758" stroke="#1e1e1e" stroke-width="2.2" stroke-linecap="butt"/>
<line x1="1042.7" y1="778.7" x2="1047.2" y2="778.7" stroke="#1e1e1e" stroke-width="2.2" stroke-linecap="butt"/>
<line x1="1040.7" y1="799.4" x2="1047.2" y2="799.4" stroke="#1e1e1e" stroke-width="2.2" stroke-linecap="butt"/>
<line x1="1040.7" y1="799.4" x2="1377.7" y2="799.4" stroke="#1e1e1e" stroke-width="2.6" stroke-linecap="butt"/>
<line x1="1066.8" y1="799.4" x2="1066.8" y2="803.4" stroke="#1e1e1e" stroke-width="2.2" stroke-linecap="butt"/>
<line x1="1099.5" y1="799.4" x2="1099.5" y2="805.9" stroke="#1e1e1e" stroke-width="2.2" stroke-linecap="butt"/>
<line x1="1132.2" y1="799.4" x2="1132.2" y2="803.4" stroke="#1e1e1e" stroke-width="2.2" stroke-linecap="butt"/>
<line x1="1164.9" y1="799.4" x2="1164.9" y2="805.9" stroke="#1e1e1e" stroke-width="2.2" stroke-linecap="butt"/>
<line x1="1197.6" y1="799.4" x2="1197.6" y2="803.4" stroke="#1e1e1e" stroke-width="2.2" stroke-linecap="butt"/>
<line x1="1230.3" y1="799.4" x2="1230.3" y2="805.9" stroke="#1e1e1e" stroke-width="2.2" stroke-linecap="butt"/>
<line x1="1263" y1="799.4" x2="1263" y2="803.4" stroke="#1e1e1e" stroke-width="2.2" stroke-linecap="butt"/>
<line x1="1295.7" y1="799.4" x2="1295.7" y2="805.9" stroke="#1e1e1e" stroke-width="2.2" stroke-linecap="butt"/>
<line x1="1328.4" y1="799.4" x2="1328.4" y2="803.4" stroke="#1e1e1e" stroke-width="2.2" stroke-linecap="butt"/>
<line x1="1361.1" y1="799.4" x2="1361.1" y2="805.9" stroke="#1e1e1e" stroke-width="2.2" stroke-linecap="butt"/>
<text x="1012.6" y="557.9" font-size="28.8" text-anchor="middle" font-weight="normal" fill="#161616" stroke="#161616" stroke-width="0.28">0.3</text>
<text x="1012.6" y="640.8" font-size="28.8" text-anchor="middle" font-weight="normal" fill="#161616" stroke="#161616" stroke-width="0.28">0.2</text>
<clipPath id="nf7"><path clip-rule="evenodd" d="M972.6,665.5 h80 v100 h-80 Z M1018.33,722.10 h5.52 v4.90 h-5.52 Z M1026.29,722.10 h5.57 v4.90 h-5.57 Z"/></clipPath>
<text x="1012.6" y="725.5" font-size="28.8" text-anchor="middle" font-weight="normal" fill="#161616" stroke="#161616" stroke-width="0.28" clip-path="url(#nf7)">0.1</text>
<text x="1013.7" y="809.1" font-size="28.8" text-anchor="middle" font-weight="normal" fill="#161616" stroke="#161616" stroke-width="0.28">0</text>
<path d="M1047.2,745.9 C1049.4,752.5 1055.9,781.4 1060.3,785.8 C1064.6,790.2 1069,778.9 1073.4,772.5 C1077.7,766.1 1082.1,747.4 1086.4,747.2 C1090.8,747 1095.2,766.2 1099.5,771.2 C1103.9,776.2 1108.2,776.5 1112.6,777.1 C1117,777.8 1121.3,773.3 1125.7,775.1 C1130,776.9 1134.4,786.3 1138.8,787.8 C1143.1,789.2 1147.5,783.1 1151.8,783.8 C1156.2,784.5 1160.6,791.2 1164.9,791.8 C1169.3,792.3 1173.6,789.9 1178,787.1 C1182.4,784.3 1186.7,775.5 1191.1,775.1 C1195.4,774.8 1199.8,785.4 1204.2,785 C1208.5,784.6 1212.9,776.7 1217.2,773 C1221.6,769.3 1226,761.7 1230.3,762.9 C1234.7,764.1 1239,778 1243.4,780.2 C1247.8,782.4 1252.1,775.5 1256.5,776.2 C1260.8,776.9 1265.2,783.7 1269.6,784.2 C1273.9,784.8 1278.3,789.6 1282.6,779.5 C1287,769.4 1291.4,723 1295.7,723.3 C1300.1,723.5 1304.4,795 1308.8,781 C1313.2,767 1317.5,645.1 1321.9,639.2 C1326.2,633.3 1330.6,729.7 1335,745.6 C1339.3,761.5 1343.7,728.4 1348,734.8 C1352.4,741.2 1356.8,773.3 1361.1,783.8 C1365.5,794.2 1372,795.2 1374.2,797.5" fill="none" stroke="#dc1f33" stroke-width="3.1" stroke-linejoin="round" stroke-linecap="round"/>
<circle cx="1047.2" cy="745.9" r="2.6" fill="#dc1f33"/>
<circle cx="1060.3" cy="785.8" r="2.6" fill="#dc1f33"/>
<circle cx="1073.4" cy="772.5" r="2.6" fill="#dc1f33"/>
<circle cx="1086.4" cy="747.2" r="2.6" fill="#dc1f33"/>
<circle cx="1099.5" cy="771.2" r="2.6" fill="#dc1f33"/>
<circle cx="1112.6" cy="777.1" r="2.6" fill="#dc1f33"/>
<circle cx="1125.7" cy="775.1" r="2.6" fill="#dc1f33"/>
<circle cx="1138.8" cy="787.8" r="2.6" fill="#dc1f33"/>
<circle cx="1151.8" cy="783.8" r="2.6" fill="#dc1f33"/>
<circle cx="1164.9" cy="791.8" r="2.6" fill="#dc1f33"/>
<circle cx="1178" cy="787.1" r="2.6" fill="#dc1f33"/>
<circle cx="1191.1" cy="775.1" r="2.6" fill="#dc1f33"/>
<circle cx="1204.2" cy="785" r="2.6" fill="#dc1f33"/>
<circle cx="1217.2" cy="773" r="2.6" fill="#dc1f33"/>
<circle cx="1230.3" cy="762.9" r="2.6" fill="#dc1f33"/>
<circle cx="1243.4" cy="780.2" r="2.6" fill="#dc1f33"/>
<circle cx="1256.5" cy="776.2" r="2.6" fill="#dc1f33"/>
<circle cx="1269.6" cy="784.2" r="2.6" fill="#dc1f33"/>
<circle cx="1282.6" cy="779.5" r="2.6" fill="#dc1f33"/>
<circle cx="1295.7" cy="723.3" r="2.6" fill="#dc1f33"/>
<circle cx="1308.8" cy="781" r="2.6" fill="#dc1f33"/>
<circle cx="1321.9" cy="639.2" r="2.6" fill="#dc1f33"/>
<circle cx="1335" cy="745.6" r="2.6" fill="#dc1f33"/>
<circle cx="1348" cy="734.8" r="2.6" fill="#dc1f33"/>
<circle cx="1361.1" cy="783.8" r="2.6" fill="#dc1f33"/>
<circle cx="1374.2" cy="797.5" r="2.6" fill="#dc1f33"/>
<path d="M1047.2,771.8 C1049.4,772.9 1055.9,777 1060.3,778.5 C1064.6,780 1069,782.8 1073.4,781.1 C1077.7,779.4 1082.1,770.5 1086.4,768.5 C1090.8,766.5 1095.2,771.2 1099.5,769.2 C1103.9,767.2 1108.2,759 1112.6,756.5 C1117,754 1121.3,748.8 1125.7,753.9 C1130,759 1134.4,781.5 1138.8,787.1 C1143.1,792.8 1147.5,786.8 1151.8,787.8 C1156.2,788.8 1160.6,792.3 1164.9,793.1 C1169.3,793.9 1173.6,793.5 1178,792.4 C1182.4,791.3 1186.7,786.1 1191.1,786.4 C1195.4,786.7 1199.8,794.2 1204.2,794 C1208.5,793.8 1212.9,787.5 1217.2,785 C1221.6,782.5 1226,777.9 1230.3,778.9 C1234.7,779.9 1239,789.3 1243.4,790.9 C1247.8,792.5 1252.1,788.4 1256.5,788.2 C1260.8,788 1265.2,789.6 1269.6,789.5 C1273.9,789.4 1278.3,794.4 1282.6,787.4 C1287,780.4 1291.4,749.6 1295.7,747.8 C1300.1,746 1304.4,803.4 1308.8,776.6 C1313.2,749.9 1317.5,600.9 1321.9,587.3 C1326.2,573.7 1330.6,671.2 1335,695.1 C1339.3,719 1343.7,717.4 1348,730.8 C1352.4,744.2 1356.8,765.3 1361.1,775.5 C1365.5,785.7 1372,789.2 1374.2,792" fill="none" stroke="#262b8c" stroke-width="3.1" stroke-linejoin="round" stroke-linecap="round"/>
<circle cx="1047.2" cy="771.8" r="2.6" fill="#262b8c"/>
<circle cx="1060.3" cy="778.5" r="2.6" fill="#262b8c"/>
<circle cx="1073.4" cy="781.1" r="2.6" fill="#262b8c"/>
<circle cx="1086.4" cy="768.5" r="2.6" fill="#262b8c"/>
<circle cx="1099.5" cy="769.2" r="2.6" fill="#262b8c"/>
<circle cx="1112.6" cy="756.5" r="2.6" fill="#262b8c"/>
<circle cx="1125.7" cy="753.9" r="2.6" fill="#262b8c"/>
<circle cx="1138.8" cy="787.1" r="2.6" fill="#262b8c"/>
<circle cx="1151.8" cy="787.8" r="2.6" fill="#262b8c"/>
<circle cx="1164.9" cy="793.1" r="2.6" fill="#262b8c"/>
<circle cx="1178" cy="792.4" r="2.6" fill="#262b8c"/>
<circle cx="1191.1" cy="786.4" r="2.6" fill="#262b8c"/>
<circle cx="1204.2" cy="794" r="2.6" fill="#262b8c"/>
<circle cx="1217.2" cy="785" r="2.6" fill="#262b8c"/>
<circle cx="1230.3" cy="778.9" r="2.6" fill="#262b8c"/>
<circle cx="1243.4" cy="790.9" r="2.6" fill="#262b8c"/>
<circle cx="1256.5" cy="788.2" r="2.6" fill="#262b8c"/>
<circle cx="1269.6" cy="789.5" r="2.6" fill="#262b8c"/>
<circle cx="1282.6" cy="787.4" r="2.6" fill="#262b8c"/>
<circle cx="1295.7" cy="747.8" r="2.6" fill="#262b8c"/>
<circle cx="1308.8" cy="776.6" r="2.6" fill="#262b8c"/>
<circle cx="1321.9" cy="587.3" r="2.6" fill="#262b8c"/>
<circle cx="1335" cy="695.1" r="2.6" fill="#262b8c"/>
<circle cx="1348" cy="730.8" r="2.6" fill="#262b8c"/>
<circle cx="1361.1" cy="775.5" r="2.6" fill="#262b8c"/>
<circle cx="1374.2" cy="792" r="2.6" fill="#262b8c"/>
<clipPath id="nf8"><path clip-rule="evenodd" d="M1020.7,779.5 h56 v100 h-56 Z M1042.42,836.10 h5.52 v4.90 h-5.52 Z M1050.38,836.10 h5.57 v4.90 h-5.57 Z"/></clipPath>
<text x="1048.7" y="839.5" font-size="28.8" text-anchor="middle" font-weight="normal" fill="#161616" stroke="#161616" stroke-width="0.28" clip-path="url(#nf8)">1</text>
<text x="1376.8" y="839.5" font-size="29.2" text-anchor="middle" font-weight="normal" fill="#161616" stroke="#161616" stroke-width="0.28">26</text>
<text x="1049.5" y="879.6" font-size="28.8" text-anchor="middle" font-weight="normal" fill="#161616" stroke="#161616" stroke-width="0.28">Top</text>
<text x="1201.2" y="879.6" font-size="29.4" text-anchor="middle" font-weight="normal" fill="#161616" stroke="#161616" stroke-width="0.28">MRE in CDS</text>
<text x="1379.4" y="879.6" font-size="29.5" text-anchor="middle" font-weight="normal" fill="#161616" stroke="#161616" stroke-width="0.28">Bottom</text>
<line x1="1545.8" y1="549.9" x2="1545.8" y2="800.3" stroke="#1e1e1e" stroke-width="2.6" stroke-linecap="butt"/>
<line x1="1539.3" y1="550.9" x2="1545.8" y2="550.9" stroke="#1e1e1e" stroke-width="2.2" stroke-linecap="butt"/>
<line x1="1541.3" y1="571.6" x2="1545.8" y2="571.6" stroke="#1e1e1e" stroke-width="2.2" stroke-linecap="butt"/>
<line x1="1541.3" y1="592.3" x2="1545.8" y2="592.3" stroke="#1e1e1e" stroke-width="2.2" stroke-linecap="butt"/>
<line x1="1541.3" y1="613" x2="1545.8" y2="613" stroke="#1e1e1e" stroke-width="2.2" stroke-linecap="butt"/>
<line x1="1539.3" y1="633.7" x2="1545.8" y2="633.7" stroke="#1e1e1e" stroke-width="2.2" stroke-linecap="butt"/>
<line x1="1541.3" y1="654.4" x2="1545.8" y2="654.4" stroke="#1e1e1e" stroke-width="2.2" stroke-linecap="butt"/>
<line x1="1541.3" y1="675.1" x2="1545.8" y2="675.1" stroke="#1e1e1e" stroke-width="2.2" stroke-linecap="butt"/>
<line x1="1541.3" y1="695.8" x2="1545.8" y2="695.8" stroke="#1e1e1e" stroke-width="2.2" stroke-linecap="butt"/>
<line x1="1539.3" y1="716.5" x2="1545.8" y2="716.5" stroke="#1e1e1e" stroke-width="2.2" stroke-linecap="butt"/>
<line x1="1541.3" y1="737.2" x2="1545.8" y2="737.2" stroke="#1e1e1e" stroke-width="2.2" stroke-linecap="butt"/>
<line x1="1541.3" y1="757.9" x2="1545.8" y2="757.9" stroke="#1e1e1e" stroke-width="2.2" stroke-linecap="butt"/>
<line x1="1541.3" y1="778.6" x2="1545.8" y2="778.6" stroke="#1e1e1e" stroke-width="2.2" stroke-linecap="butt"/>
<line x1="1539.3" y1="799.3" x2="1545.8" y2="799.3" stroke="#1e1e1e" stroke-width="2.2" stroke-linecap="butt"/>
<line x1="1539.3" y1="799.3" x2="1876.3" y2="799.3" stroke="#1e1e1e" stroke-width="2.6" stroke-linecap="butt"/>
<line x1="1565.4" y1="799.3" x2="1565.4" y2="803.3" stroke="#1e1e1e" stroke-width="2.2" stroke-linecap="butt"/>
<line x1="1598.1" y1="799.3" x2="1598.1" y2="805.8" stroke="#1e1e1e" stroke-width="2.2" stroke-linecap="butt"/>
<line x1="1630.8" y1="799.3" x2="1630.8" y2="803.3" stroke="#1e1e1e" stroke-width="2.2" stroke-linecap="butt"/>
<line x1="1663.5" y1="799.3" x2="1663.5" y2="805.8" stroke="#1e1e1e" stroke-width="2.2" stroke-linecap="butt"/>
<line x1="1696.2" y1="799.3" x2="1696.2" y2="803.3" stroke="#1e1e1e" stroke-width="2.2" stroke-linecap="butt"/>
<line x1="1728.9" y1="799.3" x2="1728.9" y2="805.8" stroke="#1e1e1e" stroke-width="2.2" stroke-linecap="butt"/>
<line x1="1761.6" y1="799.3" x2="1761.6" y2="803.3" stroke="#1e1e1e" stroke-width="2.2" stroke-linecap="butt"/>
<line x1="1794.3" y1="799.3" x2="1794.3" y2="805.8" stroke="#1e1e1e" stroke-width="2.2" stroke-linecap="butt"/>
<line x1="1827" y1="799.3" x2="1827" y2="803.3" stroke="#1e1e1e" stroke-width="2.2" stroke-linecap="butt"/>
<line x1="1859.7" y1="799.3" x2="1859.7" y2="805.8" stroke="#1e1e1e" stroke-width="2.2" stroke-linecap="butt"/>
<text x="1510.2" y="557.9" font-size="28.8" text-anchor="middle" font-weight="normal" fill="#161616" stroke="#161616" stroke-width="0.28">0.3</text>
<text x="1510.2" y="640.8" font-size="28.8" text-anchor="middle" font-weight="normal" fill="#161616" stroke="#161616" stroke-width="0.28">0.2</text>
<clipPath id="nf9"><path clip-rule="evenodd" d="M1470.2,665.5 h80 v100 h-80 Z M1515.93,722.10 h5.52 v4.90 h-5.52 Z M1523.89,722.10 h5.57 v4.90 h-5.57 Z"/></clipPath>
<text x="1510.2" y="725.5" font-size="28.8" text-anchor="middle" font-weight="normal" fill="#161616" stroke="#161616" stroke-width="0.28" clip-path="url(#nf9)">0.1</text>
<text x="1510.9" y="809.1" font-size="28.8" text-anchor="middle" font-weight="normal" fill="#161616" stroke="#161616" stroke-width="0.28">0</text>
<path d="M1545.8,778.5 C1548,768 1554.5,712.3 1558.9,715.3 C1563.2,718.3 1567.6,784.6 1572,796.4 C1576.3,808.1 1580.7,790.1 1585,785.8 C1589.4,781.5 1593.8,777.7 1598.1,770.5 C1602.5,763.3 1606.8,740.9 1611.2,742.6 C1615.6,744.3 1619.9,775.3 1624.3,780.5 C1628.6,785.7 1633,772.9 1637.4,773.8 C1641.7,774.7 1646.1,783.6 1650.4,785.8 C1654.8,788 1659.2,786 1663.5,787.1 C1667.9,788.2 1672.2,791.4 1676.6,792.4 C1681,793.4 1685.3,794.4 1689.7,793.1 C1694,791.8 1698.4,785 1702.8,784.4 C1707.1,783.8 1711.5,789.9 1715.8,789.4 C1720.2,788.9 1724.6,782.1 1728.9,781.2 C1733.3,780.4 1737.6,784.5 1742,784.3 C1746.4,784.1 1750.7,783.2 1755.1,780.1 C1759.4,777 1763.8,764.9 1768.2,765.4 C1772.5,765.9 1776.9,780.5 1781.2,783.3 C1785.6,786.1 1790,788.2 1794.3,782.2 C1798.7,776.2 1803,757 1807.4,747.4 C1811.8,737.8 1816.1,735.3 1820.5,724.3 C1824.8,713.2 1829.2,684.6 1833.6,681.1 C1837.9,677.6 1842.3,693 1846.6,703.2 C1851,713.4 1855.4,726.4 1859.7,742.2 C1864.1,758 1870.6,788.7 1872.8,798" fill="none" stroke="#dc1f33" stroke-width="3.1" stroke-linejoin="round" stroke-linecap="round"/>
<circle cx="1545.8" cy="778.5" r="2.6" fill="#dc1f33"/>
<circle cx="1558.9" cy="715.3" r="2.6" fill="#dc1f33"/>
<circle cx="1572" cy="796.4" r="2.6" fill="#dc1f33"/>
<circle cx="1585" cy="785.8" r="2.6" fill="#dc1f33"/>
<circle cx="1598.1" cy="770.5" r="2.6" fill="#dc1f33"/>
<circle cx="1611.2" cy="742.6" r="2.6" fill="#dc1f33"/>
<circle cx="1624.3" cy="780.5" r="2.6" fill="#dc1f33"/>
<circle cx="1637.4" cy="773.8" r="2.6" fill="#dc1f33"/>
<circle cx="1650.4" cy="785.8" r="2.6" fill="#dc1f33"/>
<circle cx="1663.5" cy="787.1" r="2.6" fill="#dc1f33"/>
<circle cx="1676.6" cy="792.4" r="2.6" fill="#dc1f33"/>
<circle cx="1689.7" cy="793.1" r="2.6" fill="#dc1f33"/>
<circle cx="1702.8" cy="784.4" r="2.6" fill="#dc1f33"/>
<circle cx="1715.8" cy="789.4" r="2.6" fill="#dc1f33"/>
<circle cx="1728.9" cy="781.2" r="2.6" fill="#dc1f33"/>
<circle cx="1742" cy="784.3" r="2.6" fill="#dc1f33"/>
<circle cx="1755.1" cy="780.1" r="2.6" fill="#dc1f33"/>
<circle cx="1768.2" cy="765.4" r="2.6" fill="#dc1f33"/>
<circle cx="1781.2" cy="783.3" r="2.6" fill="#dc1f33"/>
<circle cx="1794.3" cy="782.2" r="2.6" fill="#dc1f33"/>
<circle cx="1807.4" cy="747.4" r="2.6" fill="#dc1f33"/>
<circle cx="1820.5" cy="724.3" r="2.6" fill="#dc1f33"/>
<circle cx="1833.6" cy="681.1" r="2.6" fill="#dc1f33"/>
<circle cx="1846.6" cy="703.2" r="2.6" fill="#dc1f33"/>
<circle cx="1859.7" cy="742.2" r="2.6" fill="#dc1f33"/>
<circle cx="1872.8" cy="798" r="2.6" fill="#dc1f33"/>
<path d="M1545.8,789.8 C1548,787.4 1554.5,774.3 1558.9,775.2 C1563.2,776.1 1567.6,793 1572,795.1 C1576.3,797.2 1580.7,788.5 1585,787.8 C1589.4,787.1 1593.8,792.9 1598.1,791.1 C1602.5,789.3 1606.8,781.4 1611.2,777.1 C1615.6,772.8 1619.9,766.6 1624.3,765.2 C1628.6,763.8 1633,764.5 1637.4,768.5 C1641.7,772.5 1646.1,784.9 1650.4,789.1 C1654.8,793.3 1659.2,792.8 1663.5,793.8 C1667.9,794.8 1672.2,794.7 1676.6,795.1 C1681,795.5 1685.3,796.6 1689.7,796.4 C1694,796.2 1698.4,795.1 1702.8,793.8 C1707.1,792.5 1711.5,790.2 1715.8,788.8 C1720.2,787.4 1724.6,786.8 1728.9,785.4 C1733.3,784 1737.6,781.2 1742,780.1 C1746.4,779 1750.7,782 1755.1,779 C1759.4,776 1763.8,762.2 1768.2,762.2 C1772.5,762.2 1776.9,776.5 1781.2,779 C1785.6,781.5 1790,786 1794.3,776.9 C1798.7,767.8 1803,740.1 1807.4,724.3 C1811.8,708.5 1816.1,688.4 1820.5,682.1 C1824.8,675.8 1829.2,693.2 1833.6,686.4 C1837.9,679.6 1842.3,631.1 1846.6,641.1 C1851,651.1 1855.4,720.8 1859.7,746.4 C1864.1,772 1870.6,786.7 1872.8,794.8" fill="none" stroke="#262b8c" stroke-width="3.1" stroke-linejoin="round" stroke-linecap="round"/>
<circle cx="1545.8" cy="789.8" r="2.6" fill="#262b8c"/>
<circle cx="1558.9" cy="775.2" r="2.6" fill="#262b8c"/>
<circle cx="1572" cy="795.1" r="2.6" fill="#262b8c"/>
<circle cx="1585" cy="787.8" r="2.6" fill="#262b8c"/>
<circle cx="1598.1" cy="791.1" r="2.6" fill="#262b8c"/>
<circle cx="1611.2" cy="777.1" r="2.6" fill="#262b8c"/>
<circle cx="1624.3" cy="765.2" r="2.6" fill="#262b8c"/>
<circle cx="1637.4" cy="768.5" r="2.6" fill="#262b8c"/>
<circle cx="1650.4" cy="789.1" r="2.6" fill="#262b8c"/>
<circle cx="1663.5" cy="793.8" r="2.6" fill="#262b8c"/>
<circle cx="1676.6" cy="795.1" r="2.6" fill="#262b8c"/>
<circle cx="1689.7" cy="796.4" r="2.6" fill="#262b8c"/>
<circle cx="1702.8" cy="793.8" r="2.6" fill="#262b8c"/>
<circle cx="1715.8" cy="788.8" r="2.6" fill="#262b8c"/>
<circle cx="1728.9" cy="785.4" r="2.6" fill="#262b8c"/>
<circle cx="1742" cy="780.1" r="2.6" fill="#262b8c"/>
<circle cx="1755.1" cy="779" r="2.6" fill="#262b8c"/>
<circle cx="1768.2" cy="762.2" r="2.6" fill="#262b8c"/>
<circle cx="1781.2" cy="779" r="2.6" fill="#262b8c"/>
<circle cx="1794.3" cy="776.9" r="2.6" fill="#262b8c"/>
<circle cx="1807.4" cy="724.3" r="2.6" fill="#262b8c"/>
<circle cx="1820.5" cy="682.1" r="2.6" fill="#262b8c"/>
<circle cx="1833.6" cy="686.4" r="2.6" fill="#262b8c"/>
<circle cx="1846.6" cy="641.1" r="2.6" fill="#262b8c"/>
<circle cx="1859.7" cy="746.4" r="2.6" fill="#262b8c"/>
<circle cx="1872.8" cy="794.8" r="2.6" fill="#262b8c"/>
<clipPath id="nf10"><path clip-rule="evenodd" d="M1515.7,779.5 h56 v100 h-56 Z M1537.42,836.10 h5.52 v4.90 h-5.52 Z M1545.38,836.10 h5.57 v4.90 h-5.57 Z"/></clipPath>
<text x="1543.7" y="839.5" font-size="28.8" text-anchor="middle" font-weight="normal" fill="#161616" stroke="#161616" stroke-width="0.28" clip-path="url(#nf10)">1</text>
<text x="1876.7" y="839.5" font-size="29.2" text-anchor="middle" font-weight="normal" fill="#161616" stroke="#161616" stroke-width="0.28">26</text>
<text x="1544.7" y="879.6" font-size="28.8" text-anchor="middle" font-weight="normal" fill="#161616" stroke="#161616" stroke-width="0.28">Top</text>
<text x="1699.4" y="879.6" font-size="29.4" text-anchor="middle" font-weight="normal" fill="#161616" stroke="#161616" stroke-width="0.28">MRE in 3&#8217;UTR</text>
<text x="1874.4" y="879.6" font-size="29.5" text-anchor="middle" font-weight="normal" fill="#161616" stroke="#161616" stroke-width="0.28">Bottom</text>
<text x="502.6" y="681.5" font-size="29" text-anchor="middle" font-weight="normal" fill="#161616" stroke="#161616" stroke-width="0.28" transform="rotate(-90 502.6 681.5)">Relative abundance</text>
<line x1="1723.5" y1="536.3" x2="1757.3" y2="536.3" stroke="#dc1f33" stroke-width="3.8" stroke-linecap="butt"/>
<circle cx="1740.2" cy="536.3" r="3" fill="#dc1f33"/>
<text x="1769.5" y="546" font-size="23.3" text-anchor="start" font-weight="normal" fill="#d22a3e" stroke="#d22a3e" stroke-width="0.28" textLength="31.4" lengthAdjust="spacingAndGlyphs">RL</text>
<line x1="1723.5" y1="572.4" x2="1757.3" y2="572.4" stroke="#262b8c" stroke-width="3.8" stroke-linecap="butt"/>
<text x="1769.7" y="580.5" font-size="22.8" text-anchor="start" font-weight="normal" fill="#2c3070" stroke="#2c3070" stroke-width="0.28" textLength="75.2" lengthAdjust="spacingAndGlyphs">ACTIN</text>
</svg></body></html>
